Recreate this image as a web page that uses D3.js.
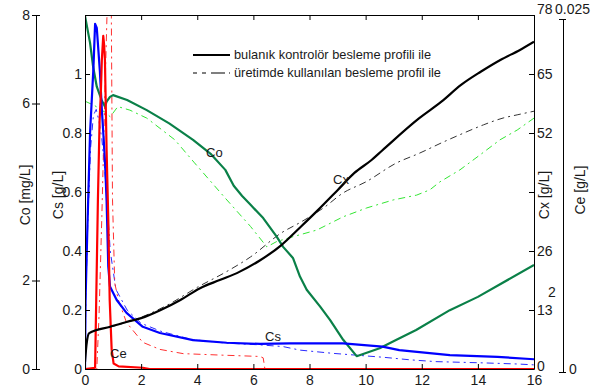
<!DOCTYPE html>
<html>
<head>
<meta charset="utf-8">
<script src="https://cdn.jsdelivr.net/npm/d3@7"></script>
<style>
  html, body { margin: 0; padding: 0; background: #fff; }
  svg { display: block; }
  text { font-family: "Liberation Sans", Arial, sans-serif; fill: #1a1a1a; }
  .domain, .tick line { stroke: #000; }
</style>
</head>
<body>
<svg id="chart" width="596" height="388"></svg>
<script>
// ---- Data: fed-batch simulation, fuzzy-controlled feed vs. production feed ----
// time axis [h]
const timeTicks = [0, 2, 4, 6, 8, 10, 12, 14, 16];

// Cx biomass [g/L]
const tCxFuzzy = [0, 0.06, 0.15, 0.9, 1.5, 2.0, 2.7, 3.4, 4.1, 4.8, 5.5, 6.2, 7.0, 7.7, 8.3, 9.0, 9.6, 10.2, 10.6, 11.9, 12.7, 13.4, 14.1, 14.8, 15.5, 16];
const cxFuzzy  = [1.5, 5.7, 7.9, 9.3, 10.4, 11.2, 13.0, 15.2, 17.8, 19.6, 21.4, 23.8, 27.3, 31.4, 35.0, 39.4, 43.2, 46.0, 48.2, 55.2, 58.9, 62.6, 65.5, 68.1, 70.3, 72.1];
const tCxProd  = [0, 0.06, 0.15, 1.0, 2.0, 3.0, 4.0, 5.0, 5.9, 7.0, 7.7, 8.5, 9.2, 10.0, 11.1, 11.9, 12.8, 13.5, 14.2, 14.9, 15.4, 16];
const cxProd   = [1.5, 5.7, 7.9, 9.4, 11.4, 14.3, 18.0, 21.3, 24.7, 30.0, 32.4, 35.5, 38.8, 41.2, 45.4, 47.5, 50.1, 52.0, 53.8, 55.3, 56.0, 56.8];

// Co dissolved oxygen [mg/L]
const tCoFuzzy = [0, 0.18, 0.29, 0.42, 0.59, 0.71, 0.77, 0.89, 1.0, 1.5, 2.2, 3.0, 3.85, 4.5, 5.0, 5.3, 5.6, 5.9, 6.35, 6.83, 7.06, 7.41, 7.66, 7.9, 8.38, 8.73, 9.2, 9.68, 10.5, 11.1, 11.8, 13.0, 14.0, 16];
const coFuzzy  = [7.98, 7.37, 6.83, 6.38, 6.08, 5.93, 6.04, 6.15, 6.19, 6.08, 5.85, 5.55, 5.18, 4.85, 4.5, 4.14, 3.91, 3.71, 3.41, 2.99, 2.76, 2.51, 2.09, 1.79, 1.41, 1.11, 0.66, 0.29, 0.47, 0.66, 0.88, 1.33, 1.63, 2.35];
const tCoProd  = [0, 0.01, 0.35, 0.7, 0.9, 1.17, 1.6, 2.2, 3.2, 3.9, 5.0, 5.9, 6.48, 6.83, 7.41, 8.26, 9.2, 10.04, 10.98, 11.82, 12.29, 12.65, 13.36, 14.08, 14.79, 15.4, 16];
const coProd   = [7.98, 6.05, 5.95, 5.81, 5.70, 5.93, 5.85, 5.67, 5.18, 4.66, 3.86, 3.22, 2.76, 2.88, 2.99, 3.14, 3.44, 3.64, 3.82, 3.93, 4.05, 4.23, 4.5, 4.84, 5.18, 5.4, 5.67];

// Cs substrate [g/L]
const tCsFuzzy = [0, 0.02, 0.08, 0.18, 0.3, 0.36, 0.42, 0.53, 0.6, 0.71, 0.77, 0.83, 0.89, 1.13, 1.48, 2.06, 2.67, 3.85, 5.05, 6.24, 7.3, 9.2, 10.6, 11.2, 13.0, 14.7, 16];
const csFuzzy  = [0.003, 0.234, 0.46, 0.80, 1.02, 1.17, 1.156, 1.01, 0.88, 0.71, 0.57, 0.347, 0.28, 0.234, 0.19, 0.143, 0.122, 0.098, 0.089, 0.085, 0.087, 0.087, 0.076, 0.064, 0.047, 0.041, 0.033];
const tCsProd  = [0, 0.03, 0.1, 0.2, 0.3, 0.4, 0.5, 0.6, 0.7, 0.8, 0.9, 1.1, 1.5, 2.0, 2.7, 3.8, 5.0, 6.2, 7.06, 7.66, 8.84, 10.6, 11.6, 12.5, 14.1, 15.4, 16];
const csProd   = [0.003, 0.25, 0.5, 0.75, 0.86, 0.88, 0.84, 0.78, 0.68, 0.55, 0.4, 0.27, 0.2, 0.155, 0.128, 0.1, 0.088, 0.082, 0.076, 0.064, 0.053, 0.040, 0.031, 0.025, 0.021, 0.017, 0.014];

// Ce ethanol [g/L]
const tCeFuzzy = [0, 0.36, 0.4, 0.46, 0.52, 0.56, 0.6, 0.65, 0.68, 0.71, 0.77, 0.83, 0.88, 0.95, 1.02, 1.2, 2.06, 2.3, 16];
const ceFuzzy  = [0.0002, 0.0003, 0.0051, 0.0122, 0.0178, 0.0195, 0.0221, 0.0238, 0.0232, 0.0221, 0.0157, 0.0108, 0.0051, 0.0016, 0.0006, 0.0004, 0.0003, 0.0002, 0.0002];
const tCeProd  = [0, 0.42, 0.5, 0.6, 0.7, 0.78, 0.84, 0.93, 0.98, 1.06, 1.19, 1.48, 2.06, 2.67, 3.5, 4.8, 6.24, 6.35, 6.42, 16];
const ceProd   = [0.0001, 0.0002, 0.0040, 0.0110, 0.0190, 0.0250, 0.0280, 0.0280, 0.0122, 0.0063, 0.0051, 0.0035, 0.0021, 0.0016, 0.0013, 0.0012, 0.0011, 0.0010, 0.0001, 0.0001];

// axis tick values
const coTicks = [0, 2, 6, 8];
const csTicks = [0, 0.2, 0.4, 0.6, 0.8, 1];
const cxTicks = [0, 13, 26, 39, 52, 65, 78];
const ceTicks = [0, 0.025];

const legendLabels = ["bulanık kontrolör besleme profili ile", "üretimde kullanılan besleme profil ile"];

// ---- Layout ----
const svg = d3.select("#chart");
const L = 85, R = 534, T = 15, B = 369;

const x   = d3.scaleLinear([0, 16], [L, R]);
const yCs = d3.scaleLinear([0, 1.2], [B, T]);
const yCo = d3.scaleLinear([0, 8], [B, T]);
const yCx = d3.scaleLinear([0, 78], [B, T]);
const yCe = d3.scaleLinear([0, 0.025], [372, 19]);

const FS = "14px";

// clip region for the curves
svg.append("defs").append("clipPath").attr("id", "plotClip")
  .append("rect").attr("x", L).attr("y", T).attr("width", R - L).attr("height", B - T);

const plot = svg.append("g").attr("clip-path", "url(#plotClip)");

const pairs = (ts, vs) => ts.map((t, i) => [t, vs[i]]);
const dashProd = "7,4,2,4";

function drawSeries(ts, vs, yScale, color, width, dash, curve) {
  const line = d3.line().x(d => x(d[0])).y(d => yScale(d[1])).curve(curve || d3.curveLinear);
  const p = plot.append("path").datum(pairs(ts, vs))
    .attr("d", line).attr("fill", "none")
    .attr("stroke", color).attr("stroke-width", width)
    .attr("stroke-linejoin", "round");
  if (dash) p.attr("stroke-dasharray", dash);
}

// production-feed profiles (thin dash-dot)
drawSeries(tCoProd, coProd, yCo, "#33e633", 1, dashProd);
drawSeries(tCxProd, cxProd, yCx, "#333333", 1, dashProd, d3.curveMonotoneX);
drawSeries(tCsProd, csProd, yCs, "#2a2aff", 1, dashProd);
drawSeries(tCeProd, ceProd, yCe, "#ff3030", 1, dashProd);

// fuzzy-controlled profiles (thick solid)
drawSeries(tCoFuzzy, coFuzzy, yCo, "#0a8048", 2.2);
drawSeries(tCsFuzzy, csFuzzy, yCs, "#0000ff", 2.2);
drawSeries(tCeFuzzy, ceFuzzy, yCe, "#ff0000", 2.2);
drawSeries(tCxFuzzy, cxFuzzy, yCx, "#000000", 2.2, null, d3.curveMonotoneX);

// ---- Axes ----
function style(g) {
  g.selectAll("text").style("font-size", FS).attr("fill", "#1a1a1a");
  g.select(".domain").attr("stroke-width", 1);
}

// box
svg.append("line").attr("x1", L).attr("x2", R).attr("y1", T + 0.5).attr("y2", T + 0.5).attr("stroke", "#000");

// bottom time axis (ticks inward)
svg.append("g").attr("transform", `translate(0,${B})`)
  .call(d3.axisBottom(x).tickValues(timeTicks).tickFormat(d3.format("d")).tickSize(-5).tickSizeOuter(0).tickPadding(6))
  .call(style);

// top mirror ticks
svg.append("g").attr("transform", `translate(0,${T})`)
  .call(d3.axisTop(x).tickValues(timeTicks).tickFormat("").tickSize(-5).tickSizeOuter(0))
  .call(g => g.select(".domain").remove());

// Cs axis on plot's left edge
svg.append("g").attr("transform", `translate(${L},0)`)
  .call(d3.axisLeft(yCs).tickValues(csTicks).tickFormat(d => d === 0 || d === 1 ? String(d) : d.toFixed(1)).tickSize(-5).tickSizeOuter(0).tickPadding(3))
  .call(style);

// Cx axis on plot's right edge
const cxAxis = svg.append("g").attr("transform", `translate(${R},0)`)
  .call(d3.axisRight(yCx).tickValues(cxTicks).tickFormat(d => d === 39 ? "" : String(d)).tickSize(-5).tickSizeOuter(0).tickPadding(3))
  .call(style);
cxAxis.selectAll(".tick").filter(d => d === 78).select("text").attr("y", -6);
cxAxis.selectAll(".tick").filter(d => d === 0).select("text").attr("y", -3);

// Co axis, offset to the far left
const coAxis = svg.append("g").attr("transform", `translate(36,0)`)
  .call(d3.axisLeft(yCo).tickValues(coTicks).tickSize(4).tickSizeOuter(0).tickPadding(2))
  .call(style);
coAxis.selectAll(".tick").append("line").attr("x1", 0).attr("x2", 4).attr("stroke", "#000");

// Ce axis, offset to the far right
const ceAxis = svg.append("g").attr("transform", `translate(563,0)`)
  .call(d3.axisRight(yCe).tickValues(ceTicks).tickFormat(d => d === 0 ? "0" : "0.025").tickSize(3).tickSizeOuter(0).tickPadding(3))
  .call(style);
ceAxis.selectAll(".tick").append("line").attr("x1", -4).attr("x2", 0).attr("stroke", "#000");
ceAxis.selectAll(".tick").filter(d => d === 0.025).select("text").attr("x", -8).attr("y", -10);
ceAxis.selectAll(".tick").filter(d => d === 0).select("text").attr("y", -3);

// axis titles
function yTitle(text, xPos, yPos) {
  svg.append("text").attr("transform", `translate(${xPos},${yPos}) rotate(-90)`)
    .attr("text-anchor", "middle").style("font-size", FS).text(text);
}
yTitle("Co [mg/L]", 30, 195);
yTitle("Cs [g/L]", 63, 195);
yTitle("Cx [g/L]", 549, 195);
yTitle("Ce [g/L]", 585, 190);

svg.append("text").attr("x", 548).attr("y", 297).style("font-size", FS).text("2");

// in-plot curve labels
const curveLabels = [["Co", 206, 157], ["Cx", 333, 184], ["Cs", 265, 341], ["Ce", 110, 358]];
svg.selectAll("text.clabel").data(curveLabels).join("text").attr("class", "clabel")
  .attr("x", d => d[1]).attr("y", d => d[2]).style("font-size", "13px").text(d => d[0]);

// ---- Legend ----
const lg = svg.append("g");
[0, 1].forEach(i => {
  const yy = 55 + i * 18;
  const ln = lg.append("line").attr("x1", 193).attr("x2", 230).attr("y1", yy).attr("y2", yy)
    .attr("stroke", "#000").attr("stroke-width", i === 0 ? 2.2 : 1.2);
  if (i === 1) ln.attr("stroke-dasharray", "4,5,4,5,14");
  lg.append("text").attr("x", 234).attr("y", yy + 4).style("font-size", "12.8px").text(legendLabels[i]);
});
</script>
</body>
</html>
